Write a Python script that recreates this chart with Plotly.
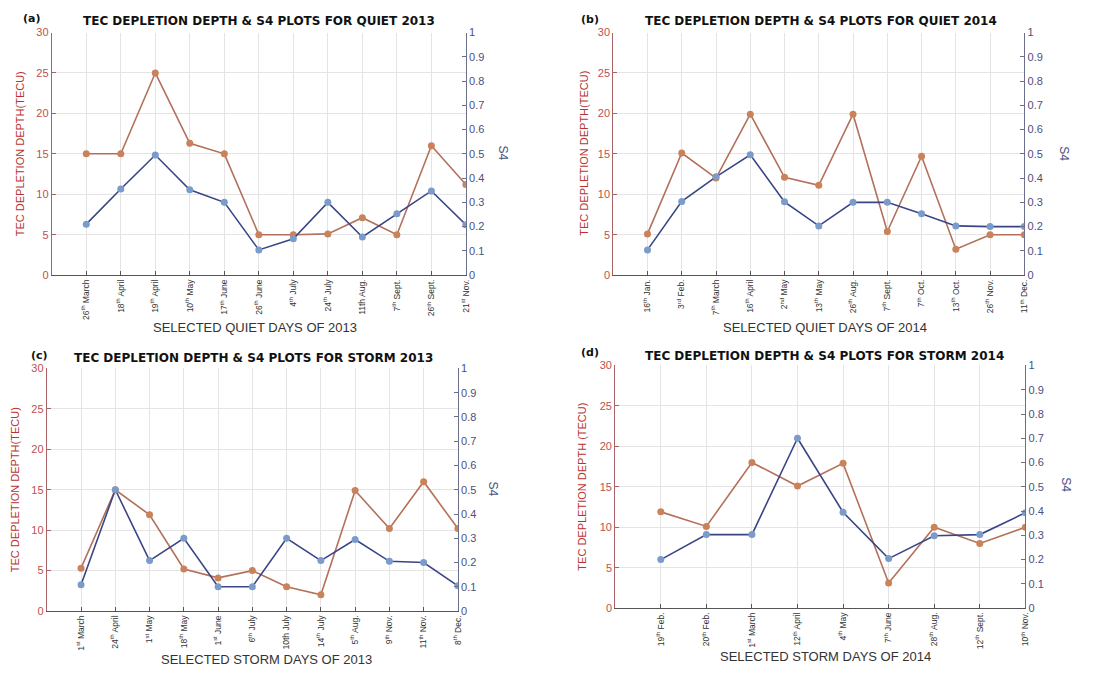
import plotly.graph_objects as go

# ---------------- data ----------------
labels_a = ["26<sup>th</sup> March", "18<sup>th</sup> April", "19<sup>th</sup> April", "10<sup>th</sup> May",
            "17<sup>th</sup> June", "26<sup>th</sup> June", "4<sup>th</sup> July", "24<sup>th</sup> July",
            "11th Aug.", "7<sup>th</sup> Sept.", "26<sup>th</sup> Sept.", "21<sup>st</sup> Nov."]
tec_a = [15, 15, 25, 16.3, 15, 5, 5, 5.1, 7.1, 5, 16, 11.2]
s4_a = [0.21, 0.355, 0.495, 0.352, 0.3, 0.104, 0.15, 0.3, 0.157, 0.253, 0.347, 0.208]

labels_b = ["16<sup>th</sup> Jan.", "3<sup>rd</sup> Feb.", "7<sup>th</sup> March", "16<sup>th</sup> April",
            "2<sup>nd</sup> May", "13<sup>th</sup> May", "26<sup>th</sup> Aug.", "7<sup>th</sup> Sept.",
            "7<sup>th</sup> Oct.", "13<sup>th</sup> Oct.", "26<sup>th</sup> Nov.", "11<sup>th</sup> Dec."]
tec_b = [5.1, 15.1, 12, 19.9, 12.1, 11.1, 19.9, 5.4, 14.7, 3.2, 5, 5]
s4_b = [0.104, 0.304, 0.405, 0.496, 0.302, 0.203, 0.3, 0.3, 0.253, 0.203, 0.2, 0.2]

labels_c = ["1<sup>st</sup> March", "24<sup>th</sup> April", "1<sup>st</sup> May", "18<sup>th</sup> May",
            "1<sup>st</sup> June", "6<sup>th</sup> July", "10th July", "14<sup>th</sup> July",
            "5<sup>th</sup> Aug.", "9<sup>th</sup> Nov.", "11<sup>th</sup> Nov.", "8<sup>th</sup> Dec."]
tec_c = [5.3, 15, 11.9, 5.2, 4.1, 5, 3, 2, 14.9, 10.2, 16, 10.2]
s4_c = [0.108, 0.5, 0.208, 0.3, 0.1, 0.1, 0.3, 0.208, 0.295, 0.205, 0.2, 0.104]

labels_d = ["19<sup>th</sup> Feb.", "20<sup>th</sup> Feb.", "1<sup>st</sup> March", "12<sup>th</sup> April",
            "4<sup>th</sup> May", "7<sup>th</sup> June", "28<sup>th</sup> Aug.", "12<sup>th</sup> Sept.",
            "10<sup>th</sup> Nov."]
tec_d = [11.9, 10.1, 18, 15.1, 17.9, 3.1, 10, 8, 10]
s4_d = [0.2, 0.303, 0.303, 0.7, 0.395, 0.204, 0.298, 0.303, 0.393]

titles = ["TEC DEPLETION DEPTH & S4 PLOTS FOR QUIET 2013",
          "TEC DEPLETION DEPTH & S4 PLOTS FOR QUIET 2014",
          "TEC DEPLETION DEPTH & S4 PLOTS FOR STORM 2013",
          "TEC DEPLETION DEPTH & S4 PLOTS FOR STORM 2014"]
xtitles = ["SELECTED QUIET DAYS OF 2013", "SELECTED QUIET DAYS OF 2014",
           "SELECTED STORM DAYS OF 2013", "SELECTED STORM DAYS OF 2014"]
ytitles = ["TEC DEPLETION DEPTH(TECU)", "TEC DEPLETION DEPTH(TECU)",
           "TEC DEPLETION DEPTH(TECU)", "TEC DEPLETION DEPTH (TECU)"]
panel_tags = ["(a)", "(b)", "(c)", "(d)"]
left_ticks = [0, 5, 10, 15, 20, 25, 30]
right_ticks = [0, 0.1, 0.2, 0.3, 0.4, 0.5, 0.6, 0.7, 0.8, 0.9, 1]
right_ticktext = ["0", "0.1", "0.2", "0.3", "0.4", "0.5", "0.6", "0.7", "0.8", "0.9", "1"]

# ---------------- layout geometry (pixels) ----------------
W, H = 1108, 675
boxes = [(52, 468, 27, 274), (616, 1029, 27, 274), (47, 460, 369, 616), (618, 1030, 366, 613)]
title_pos = [(260, 15), (825, 15), (255, 358), (828, 356)]
tag_pos = [(32, 13), (593, 14), (40, 356), (593, 353)]
xtitle_pos = [(256, 327), (829, 327), (268, 665), (829, 662)]
ytitle_pos = [(20, 150), (587, 150), (15, 492), (585, 489)]
s4_pos = [(505, 150), (1068, 150), (495, 492), (1070, 487)]

TEC_LINE = "#b3705a"
TEC_MARK = "#c9825a"
S4_LINE = "#3a4585"
S4_MARK = "#7b9bcb"
LEFT_TXT = "#c0504d"
RIGHT_TXT = "#4a5080"
GRID = "#e4e4e4"
SANS = "Liberation Sans, Arial, sans-serif"

panels = [(labels_a, tec_a, s4_a), (labels_b, tec_b, s4_b),
          (labels_c, tec_c, s4_c), (labels_d, tec_d, s4_d)]

fig = go.Figure()
layout = {}
annotations = []


def px_x(x):
    return x / W


def px_y(y):
    return 1 - y / H


for i, (labels, tec, s4) in enumerate(panels):
    n = len(labels)
    xs = list(range(1, n + 1))
    xa = f"x{i + 1}"
    yl = f"y{2 * i + 1}"
    yr = f"y{2 * i + 2}"
    l, r, t, b = boxes[i]
    xdom = [px_x(l), px_x(r)]
    ydom = [px_y(b), px_y(t)]

    fig.add_trace(go.Scatter(x=xs, y=tec, xaxis=xa, yaxis=yl, mode="lines+markers",
                             line=dict(color=TEC_LINE, width=1.6),
                             marker=dict(color=TEC_MARK, size=7, symbol="circle"),
                             showlegend=False))
    fig.add_trace(go.Scatter(x=xs, y=s4, xaxis=xa, yaxis=yr, mode="lines+markers",
                             line=dict(color=S4_LINE, width=1.6),
                             marker=dict(color=S4_MARK, size=7, symbol="circle"),
                             showlegend=False))

    xkey = "xaxis" if i == 0 else f"xaxis{i + 1}"
    ylkey = "yaxis" if i == 0 else f"yaxis{2 * i + 1}"
    yrkey = f"yaxis{2 * i + 2}"

    layout[xkey] = dict(domain=xdom, anchor=yl, range=[0, n], tickmode="array",
                        tickvals=xs, ticktext=labels, tickangle=-90,
                        showgrid=True, gridcolor=GRID, gridwidth=1, zeroline=False,
                        showline=True, linecolor="#555555", linewidth=1,
                        ticks="inside", ticklen=4, tickcolor="#555555",
                        tickfont=dict(family=SANS, size=8.5, color="#333333"))
    layout[ylkey] = dict(domain=ydom, anchor=xa, range=[0, 30], tickmode="array",
                         tickvals=left_ticks, showgrid=True, gridcolor=GRID, gridwidth=1,
                         zeroline=False, showline=True, linecolor="#a86464", linewidth=1,
                         ticks="inside", ticklen=4, tickcolor="#a86464",
                         tickfont=dict(family=SANS, size=11, color=LEFT_TXT))
    layout[yrkey] = dict(domain=ydom, anchor=xa, overlaying=yl, side="right", range=[0, 1],
                         tickmode="array", tickvals=right_ticks, ticktext=right_ticktext,
                         showgrid=False, zeroline=False, showline=True, linecolor="#6b6f8a",
                         linewidth=1, ticks="inside", ticklen=4, tickcolor="#6b6f8a",
                         tickfont=dict(family=SANS, size=11, color=RIGHT_TXT))

    tx, ty = title_pos[i]
    annotations.append(dict(text="<b>" + titles[i].replace("&", "&amp;") + "</b>", x=px_x(tx), y=px_y(ty),
                            xref="paper", yref="paper", showarrow=False, xanchor="center", yanchor="middle",
                            font=dict(family="DejaVu Sans, Verdana, sans-serif", size=12, color="#111111")))
    gx, gy = tag_pos[i]
    annotations.append(dict(text="<b>" + panel_tags[i] + "</b>", x=px_x(gx), y=px_y(gy),
                            xref="paper", yref="paper", showarrow=False, xanchor="center", yanchor="middle",
                            font=dict(family="DejaVu Sans, Verdana, sans-serif", size=11, color="#111111")))
    ax, ay = xtitle_pos[i]
    annotations.append(dict(text=xtitles[i], x=px_x(ax), y=px_y(ay), xref="paper", yref="paper",
                            showarrow=False, xanchor="center", yanchor="middle",
                            font=dict(family=SANS, size=13, color="#333333")))
    lx, ly = ytitle_pos[i]
    annotations.append(dict(text=ytitles[i], x=px_x(lx), y=px_y(ly), xref="paper", yref="paper",
                            showarrow=False, xanchor="center", yanchor="middle", textangle=-90,
                            font=dict(family=SANS, size=11, color="#b8322f")))
    sx, sy = s4_pos[i]
    annotations.append(dict(text="S4", x=px_x(sx), y=px_y(sy), xref="paper", yref="paper",
                            showarrow=False, xanchor="center", yanchor="middle", textangle=90,
                            font=dict(family=SANS, size=12, color=RIGHT_TXT)))

fig.update_layout(width=W, height=H, margin=dict(l=0, r=0, t=0, b=0),
                  paper_bgcolor="white", plot_bgcolor="white",
                  annotations=annotations, **layout)

fig.write_html("out.html", config={"displayModeBar": False},
               post_script="document.body.style.margin='0px';")
